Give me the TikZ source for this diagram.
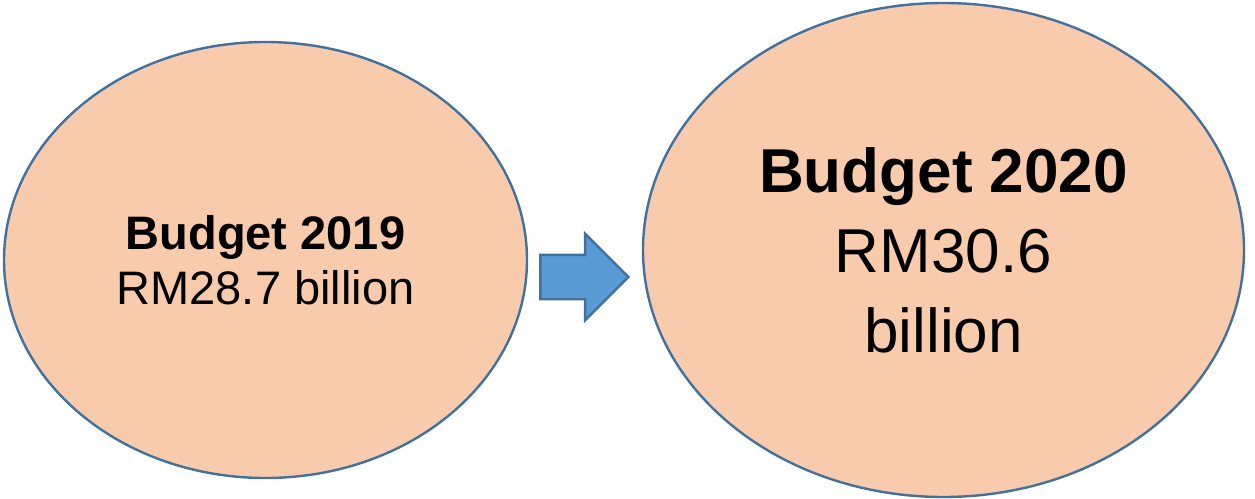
\documentclass[tikz,border=0pt]{standalone}
\usepackage{fontspec}
\setmainfont{Liberation Sans}
\usetikzlibrary{positioning,shapes.geometric,shapes.arrows}
\definecolor{peach}{HTML}{F8CBAD}
\definecolor{rim}{HTML}{41719C}
\definecolor{arrowblue}{HTML}{5B9BD5}

\begin{document}
\begin{tikzpicture}[x=1pt,y=-1pt,
	budget/.style={ellipse,draw=rim,fill=peach,line width=2.4pt,inner sep=0pt,align=center},
	risearrow/.style={single arrow,draw=rim,fill=arrowblue,line width=2.4pt,inner sep=21pt,minimum height=88pt,single arrow head extend=21pt,single arrow head indent=0pt,single arrow tip angle=90}]
	\useasboundingbox (0,0) rectangle (1255,498);
	\node [budget,minimum width=523pt,minimum height=436pt,font=\fontsize{47}{55}\selectfont] (old) at (265.5,260) {\textbf{Budget 2019}\\RM28.7 billion};
	\node [budget,minimum width=601pt,minimum height=494pt,font=\fontsize{62}{80}\selectfont] (new) at (943.5,250) {\textbf{Budget 2020}\\RM30.6\\billion};
	\node [risearrow,anchor=tip] (rise) at (630,277) {};
\end{tikzpicture}
\end{document}
